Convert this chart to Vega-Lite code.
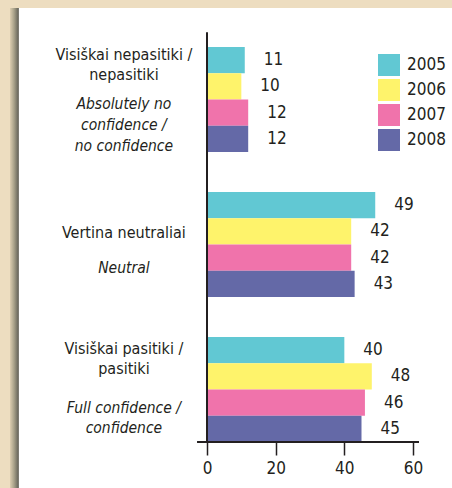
{
  "$schema": "https://vega.github.io/schema/vega-lite/v6.json",
  "width": 452,
  "height": 488,
  "autosize": {"type": "fit", "contains": "padding"},
  "padding": {"left": 10, "top": 8, "right": 0, "bottom": 0},
  "background": "#EDDDC0",
  "view": {
    "stroke": null,
    "fill": {
      "gradient": "linear", "x1": 0, "x2": 1, "y1": 0, "y2": 0,
      "stops": [
        {"offset": 0, "color": "#DCCDB0"},
        {"offset": 0.009, "color": "#A9A28A"},
        {"offset": 0.019, "color": "#66645A"},
        {"offset": 0.0205, "color": "#ffffff"},
        {"offset": 1, "color": "#ffffff"}
      ]
    }
  },
  "config": {
    "font": "DejaVu Sans Condensed, sans-serif",
    "text": {"font": "DejaVu Sans Condensed, sans-serif", "fontSize": 16, "fill": "#231F20"}
  },
  "datasets": {
    "bars": [
      {"cat": "neg", "year": "2005", "value": 11},
      {"cat": "neg", "year": "2006", "value": 10},
      {"cat": "neg", "year": "2007", "value": 12},
      {"cat": "neg", "year": "2008", "value": 12},
      {"cat": "neu", "year": "2005", "value": 49},
      {"cat": "neu", "year": "2006", "value": 42},
      {"cat": "neu", "year": "2007", "value": 42},
      {"cat": "neu", "year": "2008", "value": 43},
      {"cat": "pos", "year": "2005", "value": 40},
      {"cat": "pos", "year": "2006", "value": 48},
      {"cat": "pos", "year": "2007", "value": 46},
      {"cat": "pos", "year": "2008", "value": 45}
    ],
    "labels": [
      {"cat": "neg", "lt": "Visiškai nepasitiki /\nnepasitiki", "en": "Absolutely no\nconfidence /\nno confidence"},
      {"cat": "neu", "lt": "Vertina neutraliai", "en": "Neutral"},
      {"cat": "pos", "lt": "Visiškai pasitiki /\npasitiki", "en": "Full confidence /\nconfidence"}
    ]
  },
  "layer": [
    {
      "data": {"name": "bars"},
      "mark": {"type": "bar", "cornerRadius": 0},
      "encoding": {
        "y": {
          "field": "cat", "type": "nominal",
          "scale": {"domain": ["neg", "neu", "pos"], "paddingInner": 0.276, "paddingOuter": 0.293, "align": 0.459},
          "axis": null
        },
        "yOffset": {"field": "year", "type": "nominal", "scale": {"paddingInner": 0, "paddingOuter": 0}},
        "x": {
          "field": "value", "type": "quantitative",
          "scale": {"domain": [-57.38, 71.36], "nice": false, "zero": false},
          "axis": {
            "values": [0, 20, 40, 60], "offset": -46, "domain": false, "grid": false,
            "tickSize": 13, "tickColor": "#231F20", "tickWidth": 1.5,
            "labelFontSize": 17, "labelColor": "#231F20", "labelPadding": 5,
            "labelFont": "DejaVu Sans Condensed, sans-serif",
            "title": null
          }
        },
        "color": {
          "field": "year", "type": "nominal",
          "scale": {"domain": ["2005", "2006", "2007", "2008"], "range": ["#61C8D3", "#FEF36B", "#F073AB", "#6469A7"]},
          "legend": {
            "title": null, "orient": "none", "legendX": 368, "legendY": 46,
            "symbolType": "square", "symbolSize": 484, "symbolStrokeWidth": 0, "symbolOpacity": 1,
            "rowPadding": 3, "labelOffset": 7, "padding": 0,
            "labelFontSize": 17, "labelColor": "#231F20",
            "labelFont": "DejaVu Sans Condensed, sans-serif"
          }
        }
      }
    },
    {
      "data": {"name": "bars"},
      "mark": {"type": "text", "align": "left", "baseline": "middle", "dx": 19, "fontSize": 17},
      "encoding": {
        "y": {"field": "cat", "type": "nominal"},
        "yOffset": {"field": "year", "type": "nominal"},
        "x": {"field": "value", "type": "quantitative"},
        "text": {"field": "value", "type": "quantitative"}
      }
    },
    {
      "data": {"name": "labels"},
      "transform": [{"filter": "datum.cat === 'neg'"}],
      "mark": {"type": "text", "align": "center", "baseline": "middle", "dy": -45, "lineBreak": "\n", "lineHeight": 20},
      "encoding": {
        "y": {"field": "cat", "type": "nominal"},
        "x": {"datum": -24.2, "type": "quantitative"},
        "text": {"field": "lt", "type": "nominal"}
      }
    },
    {
      "data": {"name": "labels"},
      "transform": [{"filter": "datum.cat === 'neu'"}],
      "mark": {"type": "text", "align": "center", "baseline": "middle", "dy": -11.5, "lineBreak": "\n", "lineHeight": 20},
      "encoding": {
        "y": {"field": "cat", "type": "nominal"},
        "x": {"datum": -24.2, "type": "quantitative"},
        "text": {"field": "lt", "type": "nominal"}
      }
    },
    {
      "data": {"name": "labels"},
      "transform": [{"filter": "datum.cat === 'pos'"}],
      "mark": {"type": "text", "align": "center", "baseline": "middle", "dy": -40.5, "lineBreak": "\n", "lineHeight": 20},
      "encoding": {
        "y": {"field": "cat", "type": "nominal"},
        "x": {"datum": -24.2, "type": "quantitative"},
        "text": {"field": "lt", "type": "nominal"}
      }
    },
    {
      "data": {"name": "labels"},
      "transform": [{"filter": "datum.cat === 'neg'"}],
      "mark": {"type": "text", "align": "center", "baseline": "middle", "dy": 4, "lineBreak": "\n", "lineHeight": 21, "fontStyle": "italic", "fontSize": 15.5},
      "encoding": {
        "y": {"field": "cat", "type": "nominal"},
        "x": {"datum": -24.2, "type": "quantitative"},
        "text": {"field": "en", "type": "nominal"}
      }
    },
    {
      "data": {"name": "labels"},
      "transform": [{"filter": "datum.cat === 'neu'"}],
      "mark": {"type": "text", "align": "center", "baseline": "middle", "dy": 23.2, "lineBreak": "\n", "lineHeight": 21, "fontStyle": "italic", "fontSize": 15.5},
      "encoding": {
        "y": {"field": "cat", "type": "nominal"},
        "x": {"datum": -24.2, "type": "quantitative"},
        "text": {"field": "en", "type": "nominal"}
      }
    },
    {
      "data": {"name": "labels"},
      "transform": [{"filter": "datum.cat === 'pos'"}],
      "mark": {"type": "text", "align": "center", "baseline": "middle", "dy": 18, "lineBreak": "\n", "lineHeight": 20, "fontStyle": "italic", "fontSize": 15.5},
      "encoding": {
        "y": {"field": "cat", "type": "nominal"},
        "x": {"datum": -24.2, "type": "quantitative"},
        "text": {"field": "en", "type": "nominal"}
      }
    },
    {
      "data": {"values": [{}]},
      "mark": {"type": "rule", "color": "#231F20", "strokeWidth": 2},
      "encoding": {
        "x": {"datum": 0, "type": "quantitative"},
        "y": {"datum": "neg", "type": "nominal", "bandPosition": -0.14},
        "y2": {"datum": "pos", "bandPosition": 1}
      }
    },
    {
      "data": {"values": [{}]},
      "mark": {"type": "rule", "color": "#231F20", "strokeWidth": 2},
      "encoding": {
        "x": {"datum": -2.9, "type": "quantitative"},
        "x2": {"datum": 61.75},
        "y": {"datum": "pos", "type": "nominal", "bandPosition": 1}
      }
    }
  ]
}
